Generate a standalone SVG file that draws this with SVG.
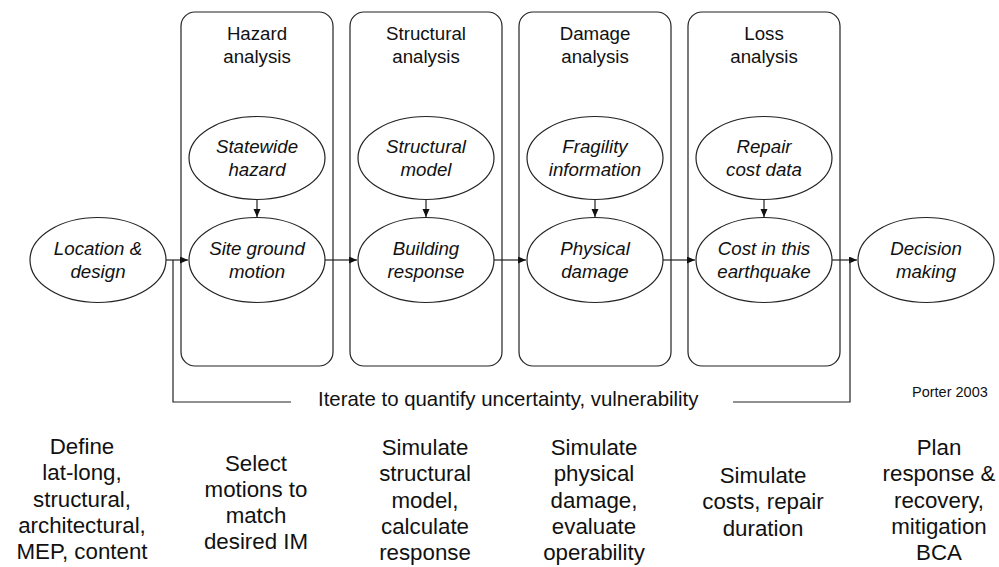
<svg xmlns="http://www.w3.org/2000/svg" width="999" height="567" viewBox="0 0 999 567">
<style>
.box{fill:none;stroke:#222;stroke-width:1.2}
.ell{fill:#fff;stroke:#222;stroke-width:1.2}
.hdr{font-family:"Liberation Sans",Arial,sans-serif;font-size:18.7px;fill:#111;text-anchor:middle}
.it{font-family:"Liberation Sans",Arial,sans-serif;font-size:18.7px;font-style:italic;fill:#111;text-anchor:middle}
.bt{font-family:"Liberation Sans",Arial,sans-serif;font-size:22.3px;fill:#111;text-anchor:middle}
.con{fill:none;stroke:#222;stroke-width:1.2}
.note{font-family:"Liberation Sans",Arial,sans-serif;fill:#111}
</style>
<defs>
<marker id="arr" markerUnits="userSpaceOnUse" markerWidth="9" markerHeight="8" refX="8" refY="3.5" orient="auto">
<path d="M0,0 L8,3.5 L0,7 z" fill="#111"/>
</marker>
</defs>

<g id="stage-hazard">
<rect class="box" x="181" y="12" width="152" height="354" rx="14"/>
<text class="hdr" x="257" y="40">Hazard</text>
<text class="hdr" x="257" y="63">analysis</text>
</g>
<g id="stage-structural">
<rect class="box" x="350" y="12" width="152" height="354" rx="14"/>
<text class="hdr" x="426" y="40">Structural</text>
<text class="hdr" x="426" y="63">analysis</text>
</g>
<g id="stage-damage">
<rect class="box" x="519" y="12" width="152" height="354" rx="14"/>
<text class="hdr" x="595" y="40">Damage</text>
<text class="hdr" x="595" y="63">analysis</text>
</g>
<g id="stage-loss">
<rect class="box" x="688" y="12" width="152" height="354" rx="14"/>
<text class="hdr" x="764" y="40">Loss</text>
<text class="hdr" x="764" y="63">analysis</text>
</g>

<g id="connectors">
<line class="con" x1="257" y1="200" x2="257" y2="217" marker-end="url(#arr)"/>
<line class="con" x1="426" y1="200" x2="426" y2="217" marker-end="url(#arr)"/>
<line class="con" x1="595" y1="200" x2="595" y2="217" marker-end="url(#arr)"/>
<line class="con" x1="764" y1="200" x2="764" y2="217" marker-end="url(#arr)"/>
<line class="con" x1="166" y1="260" x2="188" y2="260" marker-end="url(#arr)"/>
<line class="con" x1="325" y1="260" x2="357" y2="260" marker-end="url(#arr)"/>
<line class="con" x1="494" y1="260" x2="526" y2="260" marker-end="url(#arr)"/>
<line class="con" x1="663" y1="260" x2="695" y2="260" marker-end="url(#arr)"/>
<line class="con" x1="832" y1="260" x2="857" y2="260" marker-end="url(#arr)"/>
<path class="con" d="M173,260 V402 H291"/>
<path class="con" d="M733,402 H850 V260"/>
</g>

<g id="location">
<ellipse class="ell" cx="98" cy="260" rx="68" ry="42.5"/>
<text class="it" x="98" y="255">Location &amp;</text>
<text class="it" x="98" y="277.5">design</text>
</g>
<g id="statewide-hazard">
<ellipse class="ell" cx="257" cy="158" rx="68" ry="41.5"/>
<text class="it" x="257" y="153">Statewide</text>
<text class="it" x="257" y="176">hazard</text>
</g>
<g id="site-ground-motion">
<ellipse class="ell" cx="257" cy="260" rx="68" ry="42.5"/>
<text class="it" x="257" y="255">Site ground</text>
<text class="it" x="257" y="277.5">motion</text>
</g>
<g id="structural-model">
<ellipse class="ell" cx="426" cy="158" rx="68" ry="41.5"/>
<text class="it" x="426" y="153">Structural</text>
<text class="it" x="426" y="176">model</text>
</g>
<g id="building-response">
<ellipse class="ell" cx="426" cy="260" rx="68" ry="42.5"/>
<text class="it" x="426" y="255">Building</text>
<text class="it" x="426" y="277.5">response</text>
</g>
<g id="fragility">
<ellipse class="ell" cx="595" cy="158" rx="68" ry="41.5"/>
<text class="it" x="595" y="153">Fragility</text>
<text class="it" x="595" y="176">information</text>
</g>
<g id="physical-damage">
<ellipse class="ell" cx="595" cy="260" rx="68" ry="42.5"/>
<text class="it" x="595" y="255">Physical</text>
<text class="it" x="595" y="277.5">damage</text>
</g>
<g id="repair-cost">
<ellipse class="ell" cx="764" cy="158" rx="68" ry="41.5"/>
<text class="it" x="764" y="153">Repair</text>
<text class="it" x="764" y="176">cost data</text>
</g>
<g id="cost">
<ellipse class="ell" cx="764" cy="260" rx="68" ry="42.5"/>
<text class="it" x="764" y="255">Cost in this</text>
<text class="it" x="764" y="277.5">earthquake</text>
</g>
<g id="decision">
<ellipse class="ell" cx="926" cy="260" rx="68" ry="42.5"/>
<text class="it" x="926" y="255">Decision</text>
<text class="it" x="926" y="277.5">making</text>
</g>

<g id="iterate-label">
<text class="note" x="318" y="406" font-size="20.4">Iterate to quantify uncertainty, vulnerability</text>
</g>
<g id="credit">
<text class="note" x="912" y="397" font-size="14.5">Porter 2003</text>
</g>

<g id="desc-location">
<text class="bt" x="82" y="454">Define</text>
<text class="bt" x="82" y="480.3">lat-long,</text>
<text class="bt" x="82" y="506.6">structural,</text>
<text class="bt" x="82" y="532.9">architectural,</text>
<text class="bt" x="82" y="559.2">MEP, content</text>
</g>
<g id="desc-hazard">
<text class="bt" x="256" y="470.5">Select</text>
<text class="bt" x="256" y="496.8">motions to</text>
<text class="bt" x="256" y="523.1">match</text>
<text class="bt" x="256" y="549.4">desired IM</text>
</g>
<g id="desc-structural">
<text class="bt" x="425" y="455">Simulate</text>
<text class="bt" x="425" y="481.3">structural</text>
<text class="bt" x="425" y="507.6">model,</text>
<text class="bt" x="425" y="533.9">calculate</text>
<text class="bt" x="425" y="560.2">response</text>
</g>
<g id="desc-damage">
<text class="bt" x="594" y="455">Simulate</text>
<text class="bt" x="594" y="481.3">physical</text>
<text class="bt" x="594" y="507.6">damage,</text>
<text class="bt" x="594" y="533.9">evaluate</text>
<text class="bt" x="594" y="560.2">operability</text>
</g>
<g id="desc-loss">
<text class="bt" x="763" y="483">Simulate</text>
<text class="bt" x="763" y="509.3">costs, repair</text>
<text class="bt" x="763" y="535.6">duration</text>
</g>
<g id="desc-decision">
<text class="bt" x="939" y="455">Plan</text>
<text class="bt" x="939" y="481.3">response &amp;</text>
<text class="bt" x="939" y="507.6">recovery,</text>
<text class="bt" x="939" y="533.9">mitigation</text>
<text class="bt" x="939" y="560.2">BCA</text>
</g>
</svg>
